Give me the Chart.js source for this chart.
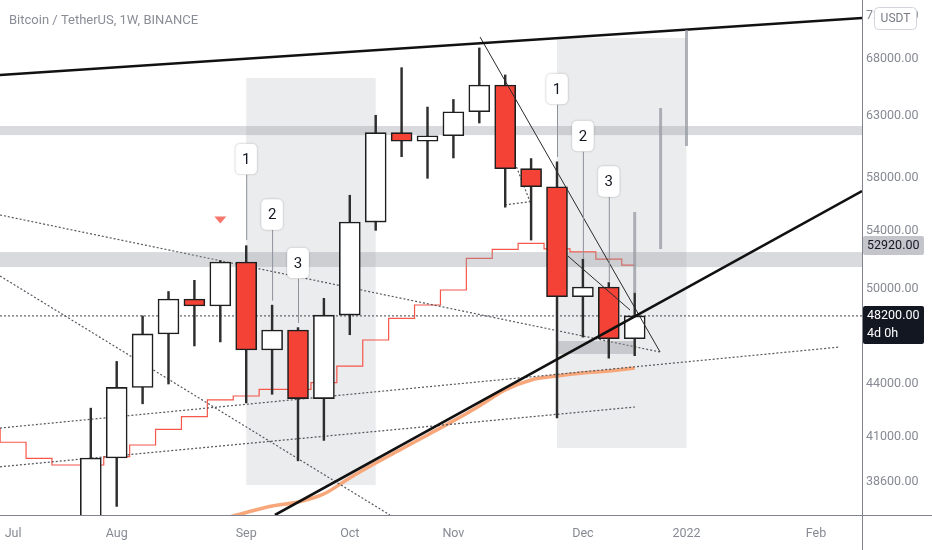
<!DOCTYPE html>
<html><head><meta charset="utf-8">
<script src="https://cdn.jsdelivr.net/npm/chart.js@4.4.1/dist/chart.umd.min.js"></script>
<style>html,body{margin:0;padding:0;background:#fff;overflow:hidden}#wrap{position:relative;width:932px;height:550px}</style>
</head><body><div id="wrap"><canvas id="c" width="932" height="550"></canvas></div>
<script>
const FONT = 'Roboto, "Liberation Sans", sans-serif';
const TITLE = 'Bitcoin / TetherUS, 1W, BINANCE';

// weekly candles (week index 0 = 5 Jul 2021)
const weekIdx = [3,4,5,6,7,8,9,10,11,12,13,14,15,16,17,18,19,20,21,22,23,24];
const opens  = [35400,39850,43800,47050,49300,48850,51800,46050,47300,43150,48250,54650,61600,60900,61350,63350,65650,58700,57300,49450,50100,46750];
const highs  = [42600,45350,48200,49800,50550,51900,52950,48900,47450,49350,56650,63050,67200,63750,64400,69000,66550,59500,59250,52000,50400,49700];
const lows   = [35200,37350,42850,44000,46300,46550,42900,43400,39700,40800,47000,54050,59650,57950,59550,62400,55750,53350,42050,46850,45550,45700];
const closes = [39850,43800,47050,49300,48850,51800,46050,47300,43150,48250,54650,61600,60900,61350,63350,65650,58700,57300,49450,50100,46750,48200];

const xTickIdx = [0,4,9,13,17,22,26,31];
const xTickLabels = ['Jul','Aug','Sep','Oct','Nov','Dec','2022','Feb'];
const yTicks = [38600,41000,44000,50000,54000,58000,63000,68000,72000];

// stepped indicator line
const stepIdx  = [-1,0,1,2,3,4,5,6,7,8,9,10,11,12,13,14,15,16,17,18,19,20,21,22,23,24];
const stepVals = [41430,40700,39830,39480,39480,39920,40550,41410,42115,43070,43300,43690,43690,44080,45070,46670,48040,48910,49900,52060,52690,53120,52730,52520,52000,51590];

// moving average (orange)
const maIdx  = [8,9,10,11,12,13,14,15,16,17,18,19,20,21,22,23,24];
const maVals = [36700,37050,37370,37570,37980,38800,39580,40330,41100,41880,42730,43650,44240,44470,44650,44770,44950];

const lastPrice = 48200;
const levelPrice = 52920;

// drawings: [x0, y0, x1, y1] in (week index, price)
const thickLines = [[-0.506,66540,32.776,71820],[10.11,36923,32.776,56970]];
const thinLines  = [[18.03,70015,24.98,45925],[21.42,52224,23.82,48583]];
const dottedLines = [[-0.506,55174,24.98,45925],[-0.506,50845,14.55,36923],[-0.506,41481,31.93,46235],[-0.506,39385,24.01,42667],[18.99,55917,19.96,56163],[19.38,59124,19.96,56163]];
const boxes = [[9,66275,14,38434],[21,69922,26,40392]];
const bands = [[-0.506,62150,32.776,61400],[-0.506,52500,32.776,51460],[21,46606,24,45803]];
const projLines = [[26,70675,60509],[25,63664,52713],[24,55390,49695]];
// callouts: week, label, box centre price, line end price
const calloutIdx = [9,10,11,21,22,23];
const calloutText = ['1','2','3','1','2','3'];
const calloutBox = [59462,55204,51737,65305,61323,57700];
const calloutEnd = [53354,49187,47744,59623,52014,50456];
const markerIdx = 8, markerPrice = 54802;

const candleBodies = weekIdx.map((w,i)=>({x:w,y:[opens[i],closes[i]]}));
const candleWicks = weekIdx.map((w,i)=>({x:w,y:[lows[i],highs[i]]}));
const bodyColors = weekIdx.map((w,i)=>closes[i]>=opens[i]?'#ffffff':'#f44336');

function seg(s, color, width, dash, order){
  return {type:'line', data:[{x:s[0],y:s[1]},{x:s[2],y:s[3]}], borderColor:color, borderWidth:width, borderDash:dash||[], pointRadius:0, fill:false, tension:0, order:order};
}

const datasets = [
  {type:'line', id:'step', data:stepIdx.map((w,i)=>({x:w,y:stepVals[i]})), stepped:'middle', borderColor:'#f6574a', borderWidth:1.2, pointRadius:0, order:20},
  {type:'line', data:maIdx.map((w,i)=>({x:w,y:maVals[i]})), borderColor:'#f7a77a', borderWidth:3.5, pointRadius:0, tension:0.3, order:19},
  {type:'line', data:[{x:-0.506,y:lastPrice},{x:32.776,y:lastPrice}], borderColor:'#3f424b', borderWidth:1, borderDash:[2,2], pointRadius:0, order:18},
  ...dottedLines.map(s=>seg(s,'#55585f',1.2,[2,2],17)),
  {type:'bar', id:'wicks', data:candleWicks, backgroundColor:'#2e2e2e', barThickness:1.8, grouped:false, order:6},
  {type:'bar', data:candleBodies, backgroundColor:bodyColors, borderColor:'#1e1e1e', borderWidth:1.6, borderSkipped:false, barThickness:21, grouped:false, order:5},
  ...thinLines.map(s=>seg(s,'#2a2a2a',1,[],3)),
  ...thickLines.map(s=>seg(s,'#111111',2.6,[],2)),
];

const drawPlugin = {
  id:'drawings',
  beforeDatasetsDraw(chart){
    const {ctx, scales:{x,y}} = chart; const a = chart.chartArea;
    ctx.save(); ctx.beginPath(); ctx.rect(a.left,a.top,a.right-a.left,a.bottom-a.top); ctx.clip();
    ctx.fillStyle='rgba(149,152,161,0.19)';
    boxes.forEach(b=>{const x0=x.getPixelForValue(b[0]),x1=x.getPixelForValue(b[2]),y0=y.getPixelForValue(b[1]),y1=y.getPixelForValue(b[3]);ctx.fillRect(x0,y0,x1-x0,y1-y0);});
    ctx.restore();
  },
  beforeDatasetDraw(chart,args){
    if(chart.data.datasets[args.index].id!=='wicks') return;
    const {ctx, scales:{x,y}} = chart; const a = chart.chartArea;
    ctx.save(); ctx.beginPath(); ctx.rect(a.left,a.top,a.right-a.left,a.bottom-a.top); ctx.clip();
    bands.forEach((b,i)=>{ctx.fillStyle = i===2?'rgba(149,152,161,0.42)':'rgba(149,152,161,0.36)';
      const x0=x.getPixelForValue(b[0]),x1=x.getPixelForValue(b[2]),y0=y.getPixelForValue(b[1]),y1=y.getPixelForValue(b[3]);ctx.fillRect(x0,y0,x1-x0,y1-y0);});
    ctx.restore();
  },
  afterDatasetsDraw(chart){
    const {ctx, scales:{x,y}} = chart;
    ctx.save();
    ctx.strokeStyle='rgba(150,153,161,0.75)'; ctx.lineWidth=3;
    projLines.forEach(p=>{const px=x.getPixelForValue(p[0]);ctx.beginPath();ctx.moveTo(px,y.getPixelForValue(p[1]));ctx.lineTo(px,y.getPixelForValue(p[2]));ctx.stroke();});
    calloutIdx.forEach((w,i)=>{
      const px=x.getPixelForValue(w), cy=y.getPixelForValue(calloutBox[i]), ey=y.getPixelForValue(calloutEnd[i]);
      const bw=22,bh=31;
      ctx.strokeStyle='#8f929b'; ctx.lineWidth=1; ctx.beginPath(); ctx.moveTo(px+0.5,cy+bh/2); ctx.lineTo(px+0.5,ey); ctx.stroke();
      ctx.shadowColor='rgba(0,0,0,0.12)'; ctx.shadowBlur=3;
      ctx.fillStyle='#ffffff'; ctx.beginPath(); ctx.roundRect(px-bw/2,cy-bh/2,bw,bh,5); ctx.fill();
      ctx.shadowBlur=0; ctx.shadowColor='transparent';
      ctx.strokeStyle='rgba(0,0,0,0.08)'; ctx.stroke();
      ctx.fillStyle='#131722'; ctx.font='15px '+FONT; ctx.textAlign='center'; ctx.textBaseline='middle';
      ctx.fillText(calloutText[i],px,cy+1);
    });
    const mx=x.getPixelForValue(markerIdx), my=y.getPixelForValue(markerPrice);
    ctx.fillStyle='#f7766c'; ctx.beginPath(); ctx.moveTo(mx-6,my-3.5); ctx.lineTo(mx+6,my-3.5); ctx.lineTo(mx,my+3.5); ctx.closePath(); ctx.fill();
    ctx.restore();
  },
  afterDraw(chart){
    const {ctx, scales:{y}} = chart; const a = chart.chartArea;
    ctx.save();
    ctx.strokeStyle='#80838d'; ctx.lineWidth=1;
    ctx.beginPath(); ctx.moveTo(a.right+0.5,0); ctx.lineTo(a.right+0.5,550); ctx.stroke();
    ctx.beginPath(); ctx.moveTo(0,a.bottom+0.5); ctx.lineTo(932,a.bottom+0.5); ctx.stroke();
    ctx.fillStyle='#8a8d96'; ctx.font='13px '+FONT; ctx.textAlign='left'; ctx.textBaseline='middle';
    ctx.fillText(TITLE,9,21);
    const ly=y.getPixelForValue(levelPrice);
    ctx.font='12.5px '+FONT;
    ctx.fillStyle='#c3c5cb'; ctx.beginPath(); ctx.roundRect(a.right+1,ly-10,61,19,2); ctx.fill();
    ctx.fillStyle='#131722'; ctx.fillText(levelPrice.toFixed(2),a.right+5,ly);
    const py=y.getPixelForValue(lastPrice);
    ctx.fillStyle='#131722'; ctx.beginPath(); ctx.roundRect(a.right+1,py-10,61,38,2); ctx.fill();
    ctx.fillStyle='#ffffff'; ctx.fillText(lastPrice.toFixed(2),a.right+5,py);
    ctx.fillText('4d 0h',a.right+5,py+18);
    ctx.fillStyle='#ffffff'; ctx.strokeStyle='#d1d4dc'; ctx.beginPath(); ctx.roundRect(874.5,7.5,42,22,4); ctx.fill(); ctx.stroke();
    ctx.fillStyle='#787b86'; ctx.textAlign='center'; ctx.font='12px '+FONT; ctx.fillText('USDT',895.5,19);
    ctx.restore();
  }
};

new Chart(document.getElementById('c'), {
  type:'bar',
  data:{datasets},
  options:{
    responsive:false, animation:false, devicePixelRatio:1,
    layout:{padding:0},
    plugins:{legend:{display:false}, tooltip:{enabled:false}},
    scales:{
      x:{type:'linear', min:-0.5058, max:32.776, offset:false,
        grid:{display:false, drawTicks:false}, border:{display:false},
        afterBuildTicks(s){ s.ticks = xTickIdx.map(v=>({value:v})); },
        ticks:{autoSkip:false, maxRotation:0, padding:11, color:'#878a94', font:{family:FONT,size:12.5},
          callback:(v)=>{const k=xTickIdx.indexOf(v); return k>=0?xTickLabels[k]:'';}},
        afterFit(s){ s.height=35; s.paddingLeft=0; s.paddingRight=0; s.paddingTop=0; s.paddingBottom=0; }
      },
      y:{type:'logarithmic', position:'right', min:36923, max:73572,
        grid:{display:false, drawTicks:false}, border:{display:false},
        afterBuildTicks(s){ s.ticks = yTicks.map(v=>({value:v})); },
        ticks:{autoSkip:false, padding:4, color:'#878a94', font:{family:FONT,size:12.5},
          callback:(v)=>Number(v).toFixed(2)},
        afterFit(s){ s.width=70; s.paddingLeft=0; s.paddingRight=0; s.paddingTop=0; s.paddingBottom=0; }
      }
    }
  },
  plugins:[drawPlugin]
});
</script></body></html>
